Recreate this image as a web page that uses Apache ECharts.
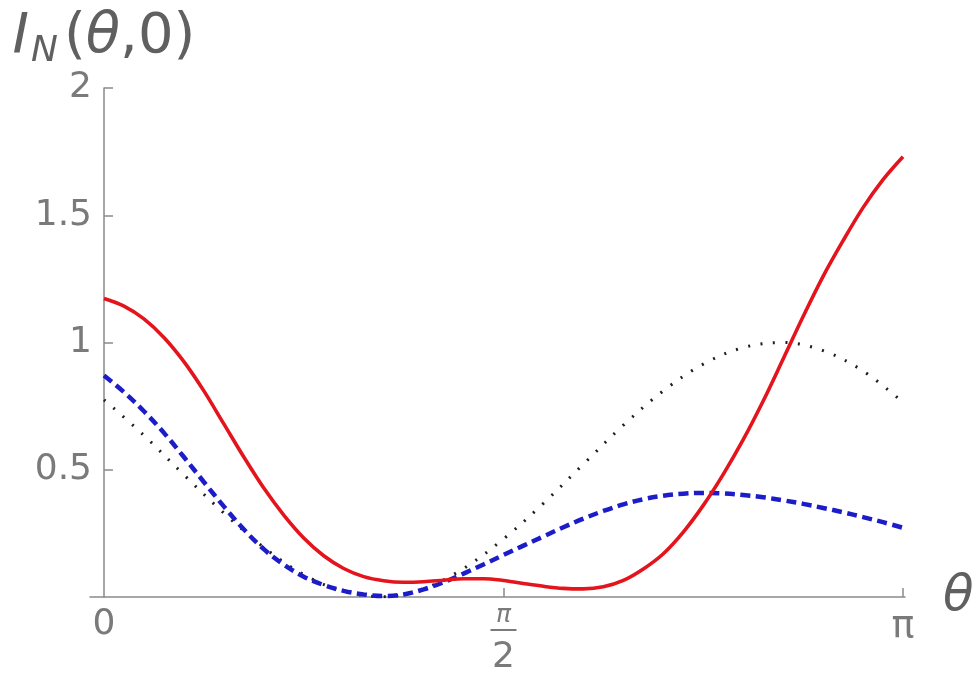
<!DOCTYPE html>
<html>
<head>
<meta charset="utf-8">
<script src="https://cdn.jsdelivr.net/npm/echarts@6/dist/echarts.min.js"></script>
<style>html,body{margin:0;padding:0;background:#fff}#c{width:977px;height:676px}</style>
</head>
<body>
<div id="c"></div>
<script>
// θ expressed in units of π
var redTheta  = [0, 0.025, 0.05, 0.075, 0.1, 0.125, 0.15, 0.175, 0.2, 0.225, 0.25, 0.275, 0.3, 0.325, 0.35, 0.375, 0.4, 0.425, 0.45, 0.475, 0.5, 0.525, 0.55, 0.575, 0.6, 0.625, 0.65, 0.675, 0.7, 0.725, 0.75, 0.775, 0.8, 0.825, 0.85, 0.875, 0.9, 0.925, 0.95, 0.975, 1.0];
var redValues = [1.173, 1.143, 1.093, 1.02, 0.925, 0.81, 0.68, 0.55, 0.428, 0.322, 0.232, 0.162, 0.112, 0.08, 0.064, 0.058, 0.06, 0.066, 0.072, 0.072, 0.065, 0.053, 0.042, 0.034, 0.032, 0.04, 0.065, 0.11, 0.17, 0.255, 0.36, 0.482, 0.618, 0.77, 0.935, 1.102, 1.26, 1.4, 1.53, 1.64, 1.73];

var blueTheta  = [0, 0.025, 0.05, 0.075, 0.1, 0.125, 0.15, 0.175, 0.2, 0.225, 0.25, 0.275, 0.3, 0.325, 0.35, 0.375, 0.4, 0.425, 0.45, 0.475, 0.5, 0.525, 0.55, 0.575, 0.6, 0.625, 0.65, 0.675, 0.7, 0.725, 0.75, 0.775, 0.8, 0.825, 0.85, 0.875, 0.9, 0.925, 0.95, 0.975, 1.0];
var blueValues = [0.87, 0.805, 0.73, 0.645, 0.55, 0.452, 0.356, 0.266, 0.188, 0.127, 0.08, 0.047, 0.024, 0.01, 0.004, 0.01, 0.03, 0.058, 0.092, 0.128, 0.165, 0.202, 0.238, 0.274, 0.308, 0.338, 0.364, 0.384, 0.398, 0.406, 0.409, 0.407, 0.401, 0.392, 0.38, 0.366, 0.35, 0.333, 0.314, 0.294, 0.272];

var blackTheta  = [0, 0.05, 0.1, 0.15, 0.2, 0.25, 0.3, 0.35, 0.4, 0.45, 0.5, 0.55, 0.6, 0.65, 0.7, 0.75, 0.8, 0.85, 0.9, 0.95, 1.0];
var blackValues = [0.775, 0.635, 0.48, 0.33, 0.195, 0.088, 0.022, 0.001, 0.032, 0.112, 0.228, 0.368, 0.522, 0.675, 0.81, 0.915, 0.98, 1.0, 0.968, 0.888, 0.765];

var xTickValues = [0, 0.5, 1];
var xTickLabels = ['0', 'π/2', 'π'];
var yTickValues = [0.5, 1, 1.5, 2];
var yTickLabels = ['0.5', '1', '1.5', '2'];

function pairs(xs, ys) { return xs.map(function (x, i) { return [x, ys[i]]; }); }

var axisColor = '#8a8a8a';
var labelColor = '#7a7a7a';
var titleColor = '#606060';
var fontFam = 'DejaVu Sans';

var chart = echarts.init(document.getElementById('c'), null, {renderer: 'canvas'});
chart.setOption({
  animation: false,
  backgroundColor: '#ffffff',
  grid: {left: 90, right: 72, top: 88, bottom: 78, containLabel: false},
  xAxis: {
    type: 'value',
    min: -0.0175,
    max: 1.0025,
    name: 'θ',
    nameLocation: 'end',
    nameGap: 38,
    nameTextStyle: {fontFamily: fontFam, fontSize: 50, fontStyle: 'italic', color: titleColor, verticalAlign: 'middle', padding: [0, 0, 6, 0]},
    axisLine: {show: true, onZero: false, lineStyle: {color: axisColor, width: 1.5}},
    axisTick: {show: true, inside: true, length: 9, customValues: [0.5, 1], lineStyle: {color: axisColor, width: 1.5}},
    splitLine: {show: false},
    axisLabel: {
      customValues: xTickValues,
      margin: 8,
      formatter: function (v) {
        var s = xTickLabels[xTickValues.indexOf(v)];
        if (s === 'π/2') return '{fp|π}\n{bar| }\n{fd|2}';
        if (s === 'π') return '{pi|π}';
        return '{n|' + s + '}';
      },
      rich: {
        n: {fontFamily: fontFam, fontSize: 36, color: labelColor, lineHeight: 40},
        pi: {fontFamily: fontFam, fontSize: 38, color: labelColor, lineHeight: 44},
        fp: {fontFamily: fontFam, fontSize: 25, fontStyle: 'italic', color: labelColor, lineHeight: 20, align: 'center'},
        bar: {width: 26, height: 2, lineHeight: 10, backgroundColor: labelColor, align: 'center', fontSize: 2},
        fd: {fontFamily: fontFam, fontSize: 36, color: labelColor, lineHeight: 46, align: 'center'}
      }
    }
  },
  yAxis: {
    type: 'value',
    min: 0,
    max: 2,
    name: '{it|I}{sub|N}{pa|(}{th|θ}{pa|,0)}',
    nameLocation: 'end',
    nameGap: 18,
    nameTextStyle: {
      rich: {
        it: {fontFamily: fontFam, fontSize: 56, fontStyle: 'italic', color: titleColor, lineHeight: 66},
        sub: {fontFamily: fontFam, fontSize: 36, fontStyle: 'italic', color: titleColor, lineHeight: 66, verticalAlign: 'bottom', padding: [0, 6, 0, 2]},
        pa: {fontFamily: fontFam, fontSize: 56, color: titleColor, lineHeight: 66},
        th: {fontFamily: fontFam, fontSize: 56, fontStyle: 'italic', color: titleColor, lineHeight: 66}
      }
    },
    axisLine: {show: true, onZero: true, lineStyle: {color: axisColor, width: 1.5}},
    axisTick: {show: true, inside: true, length: 9, customValues: yTickValues, lineStyle: {color: axisColor, width: 1.5}},
    splitLine: {show: false},
    axisLabel: {
      customValues: yTickValues,
      margin: -2,
      fontFamily: fontFam,
      fontSize: 36,
      color: labelColor,
      formatter: function (v) { return yTickLabels[yTickValues.indexOf(v)]; }
    }
  },
  series: [
    {
      name: 'dotted', type: 'line', data: pairs(blackTheta, blackValues), smooth: 0.35, showSymbol: false,
      lineStyle: {color: '#1e1e1e', width: 3, type: [2, 10.5], cap: 'butt'}, z: 3
    },
    {
      name: 'dashed', type: 'line', data: pairs(blueTheta, blueValues), smooth: 0.35, showSymbol: false,
      lineStyle: {color: '#1c1cc8', width: 4.5, type: [10, 5.5], cap: 'butt'}, z: 4
    },
    {
      name: 'solid', type: 'line', data: pairs(redTheta, redValues), smooth: 0.35, showSymbol: false,
      lineStyle: {color: '#e4141c', width: 3.6}, z: 5
    }
  ]
});
</script>
</body>
</html>
